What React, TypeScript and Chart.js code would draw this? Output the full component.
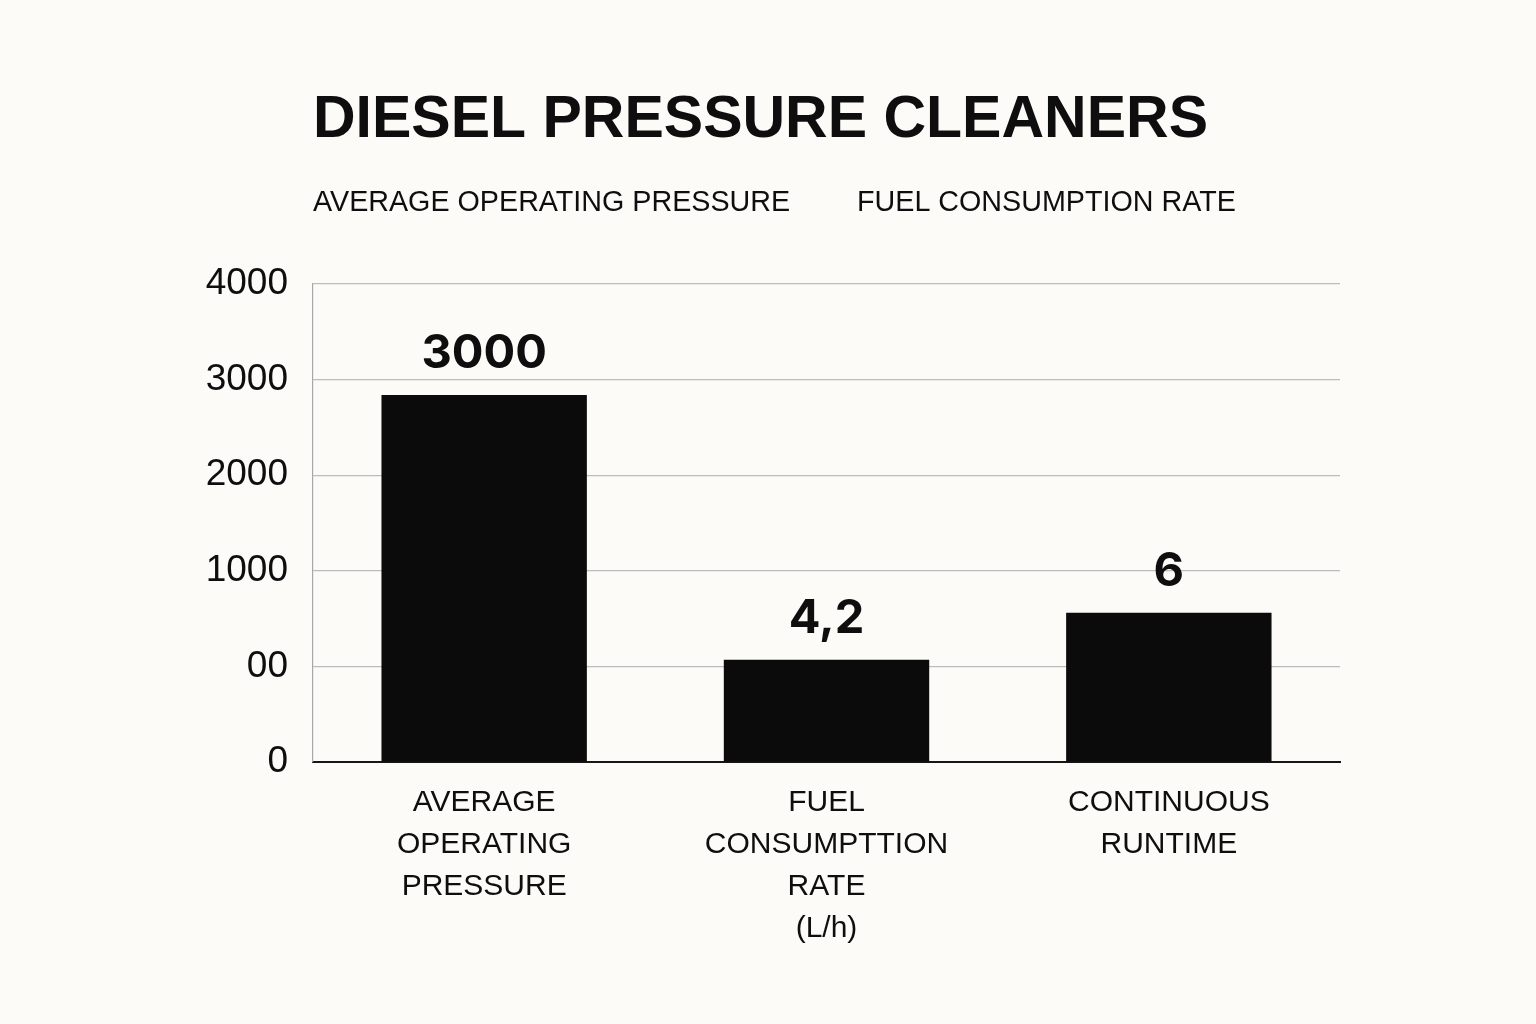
import React, { useEffect, useRef } from "react";
import { Chart, registerables } from "chart.js";

Chart.register(...registerables);

const titleText = "DIESEL PRESSURE CLEANERS";
const subtitleItems = ["AVERAGE OPERATING PRESSURE", "FUEL CONSUMPTION RATE"];
const categories = [
  ["AVERAGE", "OPERATING", "PRESSURE"],
  ["FUEL", "CONSUMPTTION", "RATE", "(L/h)"],
  ["CONTINUOUS", "RUNTIME"],
];
// bar heights in axis units (axis positions 0..5000)
const barHeights = [3840, 1070, 1560];
const valueLabels = ["3000", "4,2", "6"];
const yTickLabels = ["0", "00", "1000", "2000", "3000", "4000"];

const FONT = "'Liberation Sans', Arial, sans-serif";
const VALUE_FONT = "Inter, 'Liberation Sans', Arial, sans-serif";
const INK = "#0e0e0e";
const BG = "#fcfbf8";

export default function App() {
  const ref = useRef<HTMLCanvasElement | null>(null);

  useEffect(() => {
    if (!ref.current) return;

    const decor = {
      id: "decor",
      beforeDraw(chart: any) {
        const { ctx, chartArea } = chart;
        ctx.save();
        ctx.fillStyle = BG;
        ctx.fillRect(0, 0, chart.width, chart.height);
        ctx.fillStyle = INK;
        ctx.textBaseline = "alphabetic";
        ctx.textAlign = "left";
        ctx.font = `bold 59px ${FONT}`;
        ctx.fillText(titleText, chartArea.left, 137);
        ctx.font = `28.7px ${FONT}`;
        ctx.textBaseline = "middle";
        ctx.fillText(subtitleItems[0], chartArea.left, 203);
        ctx.fillText(subtitleItems[1], chartArea.left + 544, 203);
        ctx.restore();
      },
      afterDatasetsDraw(chart: any) {
        const { ctx } = chart;
        const meta = chart.getDatasetMeta(0);
        ctx.save();
        ctx.fillStyle = INK;
        ctx.font = `700 47px ${VALUE_FONT}`;
        ctx.textAlign = "center";
        ctx.textBaseline = "alphabetic";
        meta.data.forEach((bar: any, i: number) => {
          ctx.fillText(valueLabels[i], bar.x, bar.y - 27);
        });
        ctx.restore();
      },
    };

    const chart = new Chart(ref.current, {
      type: "bar",
      data: {
        labels: categories as any,
        datasets: [
          {
            data: barHeights,
            backgroundColor: "#0b0b0b",
            barPercentage: 0.6,
            categoryPercentage: 1,
          },
        ],
      },
      options: {
        animation: false,
        responsive: false,
        maintainAspectRatio: false,
        layout: { padding: { left: 0, top: 284, right: 196, bottom: 0 } },
        plugins: {
          legend: { display: false },
          title: { display: false },
          tooltip: { enabled: false },
        },
        scales: {
          x: {
            grid: { display: false, drawTicks: false },
            border: { color: "#161616", width: 2 },
            ticks: {
              color: INK,
              font: { family: FONT, size: 30, lineHeight: 1.4 },
              padding: 20,
              maxRotation: 0,
              autoSkip: false,
            },
            afterFit(scale: any) {
              scale.height = 262;
            },
          },
          y: {
            min: 0,
            max: 5000,
            grid: { color: "#bcbcbc", lineWidth: 1.2, drawTicks: false },
            border: { color: "#a8a8a8", width: 1.2 },
            ticks: {
              stepSize: 1000,
              color: INK,
              font: { family: FONT, size: 37 },
              padding: 25,
              callback: (v: any) => yTickLabels[Math.round(Number(v) / 1000)],
            },
            afterFit(scale: any) {
              scale.width = 313;
            },
          },
        },
      },
      plugins: [decor],
    });

    return () => chart.destroy();
  }, []);

  return (
    <div
      style={{
        position: "fixed",
        left: 0,
        top: 0,
        width: 1536,
        height: 1024,
        background: BG,
      }}
    >
      <canvas ref={ref} width={1536} height={1024} style={{ width: 1536, height: 1024 }} />
    </div>
  );
}
